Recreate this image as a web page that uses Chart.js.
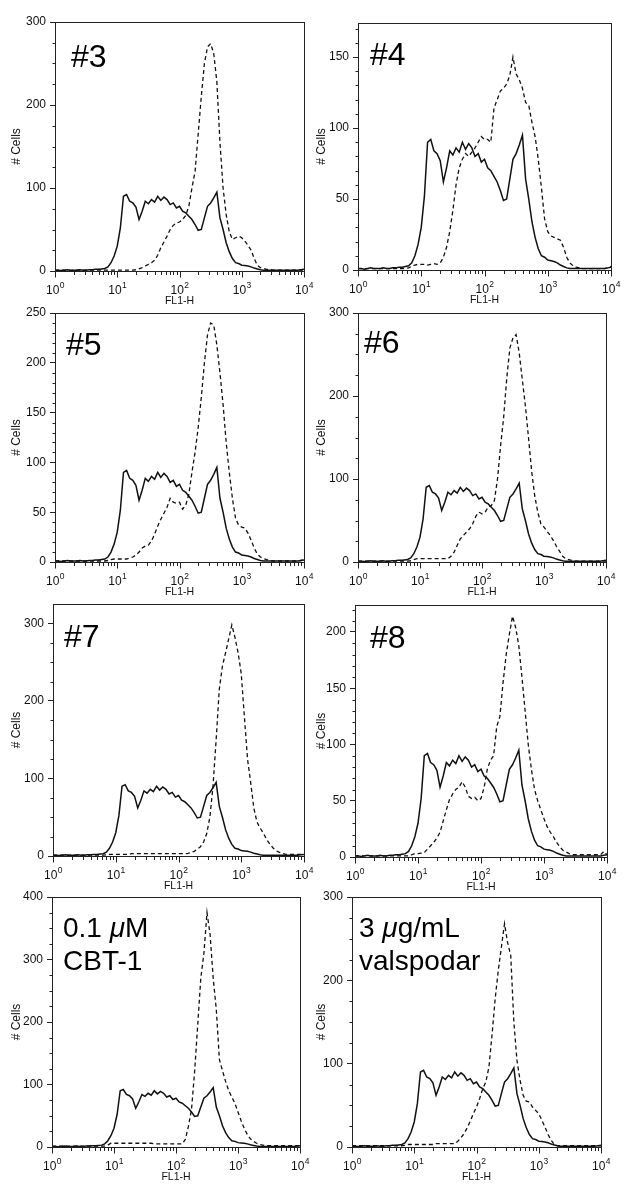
<!DOCTYPE html>
<html>
<head>
<meta charset="utf-8">
<script src="https://cdn.jsdelivr.net/npm/chart.js@4.4.0/dist/chart.umd.min.js"></script>
<style>
  html, body { margin: 0; padding: 0; background: #fff; }
  #wrap { position: relative; width: 639px; height: 1201px; overflow: hidden; }
  canvas { position: absolute; }
</style>
</head>
<body>
<div id="wrap"></div>
<script>
// FL1-H bins, as decades (10^0 .. 10^4)
const binExp = [
  0, 0.05, 0.1, 0.15, 0.2, 0.25, 0.3, 0.35, 0.4, 0.45,
  0.5, 0.55, 0.6, 0.65, 0.7, 0.75, 0.8, 0.85, 0.9, 0.95,
  1, 1.05, 1.1, 1.15, 1.2, 1.25, 1.3, 1.35, 1.4, 1.45,
  1.5, 1.55, 1.6, 1.65, 1.7, 1.75, 1.8, 1.85, 1.9, 1.95,
  2, 2.05, 2.1, 2.15, 2.2, 2.25, 2.3, 2.35, 2.4, 2.45,
  2.5, 2.55, 2.6, 2.65, 2.7, 2.75, 2.8, 2.85, 2.9, 2.95,
  3, 3.05, 3.1, 3.15, 3.2, 3.25, 3.3, 3.35, 3.4, 3.45,
  3.5, 3.55, 3.6, 3.65, 3.7, 3.75, 3.8, 3.85, 3.9, 3.95,
  4
];

// solid curve, same control in every panel
const controlCells = [
  1, 1, 0.5, 1, 1.5, 1, 1, 1, 1.5, 1,
  1, 1.5, 1.5, 2, 2, 2.5, 3, 5, 10, 18,
  30, 52, 90, 92, 84, 82, 77, 62, 72, 84,
  81, 86, 83, 90, 85, 89, 86, 80, 82, 76,
  78, 72, 70, 66, 62, 56, 49, 50, 64, 78,
  82, 88, 95, 64, 50, 34, 23, 15, 10, 9,
  7, 6.5, 6, 5, 3.5, 2.5, 1.5, 1, 1, 1,
  1, 1, 1, 1, 1, 1, 1, 1, 1, 1.5,
  2
];

// dashed curves
const cells3 = [
  1, 1, 1, 1, 1, 0.5, 1, 1, 1, 1,
  1, 1, 1, 1, 1, 1, 1, 1, 1, 1,
  1, 1, 1, 1, 1, 1, 1.5, 2.5, 4, 6,
  8, 10, 13, 19, 28, 35, 42, 50, 55, 58,
  59, 62, 67, 78, 100, 120, 165, 210, 250, 270,
  274, 262, 228, 155, 100, 68, 47, 38, 40, 42,
  40, 36, 31, 25, 15, 7, 4, 3, 2, 2,
  1, 1, 1, 1, 1, 1, 1, 1, 1, 1,
  1
];
const cells4 = [
  1, 1, 1, 1, 1, 1, 1, 1, 1, 1,
  1, 1, 1, 1, 1, 1, 1.5, 2.5, 3.5, 4,
  4, 4, 3.5, 4, 4.5, 4, 5, 9, 16, 27,
  42, 60, 72, 78, 82, 80, 83, 86, 90, 94,
  92, 92, 90, 114, 120, 126, 128, 131, 137, 150,
  138, 134, 128, 118, 116, 104, 94, 78, 58, 36,
  27, 24, 23, 22, 21, 16, 9, 5, 3, 2,
  1.5, 1, 1, 1, 1, 1, 1, 1, 1, 1.5,
  2.5
];
const cells5 = [
  1, 1, 1, 1, 1, 1, 1, 1, 1, 1,
  1, 1, 1, 1, 1, 1, 1, 1.5, 2.5, 3,
  3, 3, 3, 3, 4, 5, 7, 10, 14, 16,
  17, 21, 28, 36, 43, 49, 55, 64, 60, 59,
  60, 53, 57, 68, 90, 110, 135, 165, 200, 228,
  240, 238, 218, 190, 158, 120, 90, 64, 44, 37,
  35, 34, 29, 22, 14, 8, 5, 3.5, 2.5, 1.5,
  1, 1, 1, 1, 1, 1, 1, 1, 1, 1.5,
  2
];
const cells6 = [
  1, 1, 1, 1, 1, 1, 1, 1, 1, 1,
  1, 1, 1, 1, 1, 1, 1, 1.5, 3, 4,
  4, 4, 4, 4, 4, 4, 4, 4, 4, 4,
  7, 12, 20, 28, 32, 36, 40, 46, 55, 60,
  58, 60, 66, 68, 74, 100, 140, 175, 222, 258,
  270, 274, 252, 220, 188, 150, 110, 80, 60, 46,
  42, 37, 32, 26, 19, 13, 7, 4, 3, 2,
  1, 1, 1, 1, 1, 1, 1, 1, 1, 1,
  1
];
const cells7 = [
  1, 1, 1, 1, 1, 1, 1, 1, 1, 1,
  1, 1, 1, 1, 1, 1, 1, 1.5, 2, 2,
  2, 2, 2, 2, 2, 3, 3, 3, 3, 3,
  3, 3, 3, 3, 3, 3, 3, 3, 3, 3,
  3, 3, 3, 3.5, 4.5, 6, 9, 12, 18, 29,
  50, 90, 150, 215, 245, 262, 280, 298, 282, 262,
  235, 180, 125, 95, 62, 44, 36, 30, 22, 16,
  11, 7, 5, 3.5, 2.5, 2, 2, 2, 2, 2,
  2
];
const cells8 = [
  1, 1, 1, 1, 1, 1, 1, 1, 1, 1,
  1, 1, 1, 1, 1, 1, 1, 1, 2, 3,
  3, 3.5, 4, 7, 10, 13, 17, 22, 32, 42,
  51, 56, 60, 62, 67, 62, 54, 52, 53, 50,
  52, 62, 78, 86, 90, 116, 125, 155, 180, 198,
  214, 204, 188, 160, 130, 100, 78, 60, 50, 42,
  34, 27, 22, 18, 13, 9, 6, 4.5, 3, 2,
  2, 2, 2, 2, 2, 2, 2, 2, 2, 5,
  2
];
const cellsCbt = [
  1.5, 1.5, 1.5, 1.5, 1.5, 1.5, 1.5, 1.5, 1.5, 1.5,
  1.5, 1.5, 1.5, 1.5, 1.5, 1.5, 1.5, 1.5, 3, 6,
  6, 6, 6, 6, 6, 6, 6, 6, 6, 6,
  6, 6, 6, 5, 5, 5, 5, 5, 5, 5,
  5, 5, 5, 12, 33, 60, 120, 195, 270, 310,
  375, 340, 270, 220, 140, 122, 105, 90, 80, 70,
  56, 42, 30, 20, 13, 9, 6, 4, 3, 2,
  2, 2, 2, 2, 2, 2, 2, 2, 2, 2,
  2
];
const cellsVals = [
  1.5, 1.5, 1.5, 1.5, 1.5, 1.5, 1.5, 1.5, 1.5, 1.5,
  1.5, 1.5, 1.5, 1.5, 1.5, 1.5, 1.5, 2, 3, 3,
  3, 3, 3, 3, 3, 3, 3, 4, 4, 4,
  4, 4, 4, 4, 7, 11, 16, 23, 31, 40,
  48, 58, 70, 78, 96, 135, 178, 212, 240, 268,
  245, 230, 150, 104, 80, 62, 55, 54, 48, 44,
  40, 32, 24, 15, 8, 3, 1.5, 1.5, 1.5, 1.5,
  1.5, 1.5, 1.5, 1.5, 1.5, 1.5, 1.5, 1.5, 1.5, 1.5,
  1.5
];

const FONT = '"Liberation Sans", Arial, Helvetica, sans-serif';
Chart.defaults.font.family = FONT;
Chart.defaults.color = '#111';

const X_AXIS_H = 36;
const TOP_PAD = 20;

// page layout of each panel: plot box (l,t,r,b), y range, label
const panels = [
  { cells: cells3, yMax: 300, major: 100, minor: 25, col: 0, box: [55, 22, 304, 271], text: ['#3'], at: [71, 67], size: 32 },
  { cells: cells4, yMax: 174, major: 50, minor: 10, col: 1, box: [358, 23, 611, 270], text: ['#4'], at: [370, 65], size: 32 },
  { cells: cells5, yMax: 250, major: 50, minor: 10, col: 0, box: [55, 313, 304, 562], text: ['#5'], at: [66, 355], size: 32 },
  { cells: cells6, yMax: 300, major: 100, minor: 25, col: 1, box: [358, 313, 606, 562], text: ['#6'], at: [364, 353], size: 32 },
  { cells: cells7, yMax: 325, major: 100, minor: 25, col: 0, box: [53, 604, 304, 856], text: ['#7'], at: [64, 647], size: 32 },
  { cells: cells8, yMax: 224, major: 50, minor: 10, col: 1, box: [355, 605, 607, 857], text: ['#8'], at: [370, 648], size: 32 },
  { cells: cellsCbt, yMax: 400, major: 100, minor: 25, col: 0, box: [52, 897, 300, 1147], text: ['0.1 μM', 'CBT-1'], at: [63, 937], size: 28 },
  { cells: cellsVals, yMax: 300, major: 100, minor: 25, col: 1, box: [352, 897, 601, 1147], text: ['3 μg/mL', 'valspodar'], at: [359, 937], size: 28 }
];

const colLeft = [0, 305];
const colWidth = [318, 334];

function toPoints(arr) {
  return binExp.map((e, i) => ({ x: Math.pow(10, e), y: arr[i] }));
}

// text with an italic mu
function drawRich(ctx, str, x, y, size) {
  const parts = str.split(/(μ)/);
  let cx = x;
  parts.forEach(part => {
    if (!part) return;
    ctx.font = (part === 'μ' ? 'italic ' : '') + size + 'px ' + FONT;
    ctx.fillText(part, cx, y);
    cx += ctx.measureText(part).width;
  });
}

function makeDecor(p, ox, oy) {
  return {
    id: 'decor',
    afterDraw(chart) {
      const ctx = chart.ctx;
      const a = chart.chartArea;
      const xs = chart.scales.x;
      const ys = chart.scales.y;
      ctx.save();
      ctx.strokeStyle = '#222';
      ctx.lineWidth = 1;
      const L = Math.round(a.left) + 0.5, T = Math.round(a.top) + 0.5;
      const R = Math.round(a.right) + 0.5, B = Math.round(a.bottom) + 0.5;
      ctx.strokeRect(L, T, R - L, B - T);

      // log ticks on x, pointing down
      ctx.beginPath();
      for (let d = 0; d <= 4; d++) {
        for (let k = 1; k <= 9; k++) {
          if (d === 4 && k > 1) break;
          const px = Math.round(xs.getPixelForValue(k * Math.pow(10, d))) + 0.5;
          ctx.moveTo(px, B);
          ctx.lineTo(px, B + (k === 1 ? 6 : 3.5));
        }
      }
      // minor y ticks
      for (let v = p.minor; v < p.yMax; v += p.minor) {
        if (v % p.major === 0) continue;
        const py = Math.round(ys.getPixelForValue(v)) + 0.5;
        ctx.moveTo(L, py);
        ctx.lineTo(L - 3, py);
      }
      ctx.stroke();

      // decade labels 10^n
      ctx.fillStyle = '#111';
      ctx.textBaseline = 'alphabetic';
      ctx.textAlign = 'left';
      for (let d = 0; d <= 4; d++) {
        const px = xs.getPixelForValue(Math.pow(10, d));
        ctx.font = '12px ' + FONT;
        const w1 = ctx.measureText('10').width;
        ctx.font = '8.5px ' + FONT;
        const w2 = ctx.measureText(String(d)).width;
        const x0 = px - (w1 + w2) / 2;
        ctx.font = '12px ' + FONT;
        ctx.fillText('10', x0, a.bottom + 23);
        ctx.font = '8.5px ' + FONT;
        ctx.fillText(String(d), x0 + w1 + 0.5, a.bottom + 17);
      }

      // panel label
      ctx.fillStyle = '#000';
      p.text.forEach((line, i) => {
        drawRich(ctx, line, p.at[0] - ox, p.at[1] - oy + i * 33, p.size);
      });
      ctx.restore();
    }
  };
}

const wrap = document.getElementById('wrap');

panels.forEach(p => {
  const [l, t, r, b] = p.box;
  const ox = colLeft[p.col];
  const oy = t - TOP_PAD;
  const w = colWidth[p.col];
  const h = (b - t) + TOP_PAD + X_AXIS_H + 6;
  const cv = document.createElement('canvas');
  cv.width = w;
  cv.height = h;
  cv.style.left = ox + 'px';
  cv.style.top = oy + 'px';
  wrap.appendChild(cv);

  const yWidth = l - ox;

  new Chart(cv, {
    type: 'line',
    data: {
      datasets: [
        {
          label: 'control',
          data: toPoints(controlCells),
          borderColor: '#111',
          borderWidth: 1.5,
          pointRadius: 0,
          tension: 0,
          fill: false
        },
        {
          label: 'treated',
          data: toPoints(p.cells),
          borderColor: '#111',
          borderWidth: 1.3,
          borderDash: [4, 3],
          pointRadius: 0,
          tension: 0,
          fill: false
        }
      ]
    },
    options: {
      responsive: false,
      animation: false,
      events: [],
      layout: {
        padding: { left: 0, top: TOP_PAD, right: w - (r - ox), bottom: h - TOP_PAD - (b - t) - X_AXIS_H }
      },
      plugins: {
        legend: { display: false },
        tooltip: { enabled: false }
      },
      scales: {
        x: {
          type: 'logarithmic',
          min: 1,
          max: 10000,
          grid: { display: false },
          border: { display: false },
          ticks: { display: false },
          title: { display: true, text: 'FL1-H', font: { size: 10.5 }, color: '#111', padding: 0 },
          afterFit: s => { s.height = X_AXIS_H; }
        },
        y: {
          min: 0,
          max: p.yMax,
          grid: { display: true, drawOnChartArea: false, drawTicks: true, tickLength: 5, color: '#222', tickColor: '#222' },
          border: { display: false },
          ticks: { stepSize: p.major, includeBounds: false, padding: 4, color: '#111', font: { size: 12 } },
          title: { display: true, text: '# Cells', font: { size: 12 }, color: '#111', padding: { top: 9, bottom: 0 } },
          afterFit: s => { s.width = yWidth; }
        }
      }
    },
    plugins: [makeDecor(p, ox, oy)]
  });
});
</script>
</body>
</html>
